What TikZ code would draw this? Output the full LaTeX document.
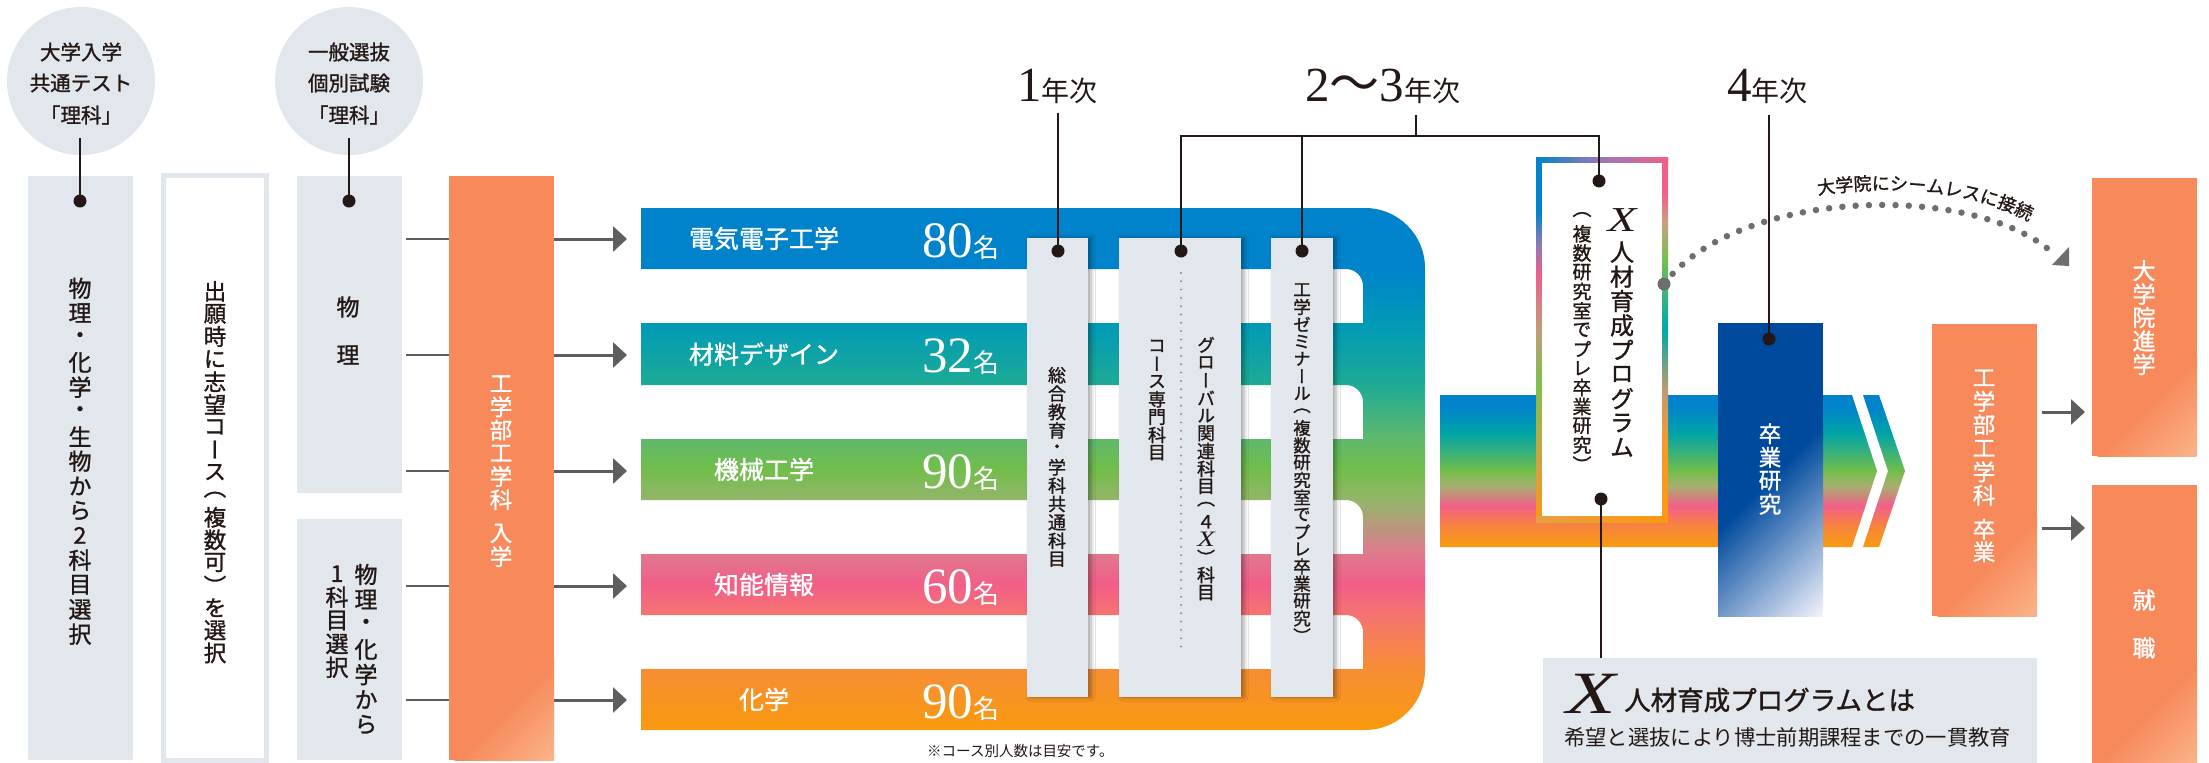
\documentclass[tikz,border=0pt]{standalone}
\usepackage{fontspec}
\setmainfont{Noto Sans CJK JP}
\newfontfamily\jp{Noto Sans CJK JP}
\newfontfamily\jpm[FakeBold=1.2]{Noto Sans CJK JP}
\newfontfamily\jpv[RawFeature=+vert,FakeBold=1.2]{Noto Sans CJK JP}
\newfontfamily\serifnum{Liberation Serif}
\usetikzlibrary{arrows.meta,decorations.text,shadows.blur}

\definecolor{ink}{HTML}{231815}
\definecolor{pale}{HTML}{E1E7ED}
\definecolor{orng}{HTML}{F7895A}
\definecolor{orngl}{HTML}{FBB48A}
\definecolor{gline}{HTML}{5E5E5E}
\definecolor{gdot}{HTML}{6E6E6E}
\definecolor{gdot2}{HTML}{8A8A8A}
\definecolor{dblue}{HTML}{004A9D}
\definecolor{cb}{HTML}{0083CB}
\definecolor{cp}{HTML}{F0608A}
\definecolor{co}{HTML}{F99A0E}
\definecolor{s1}{HTML}{F68D35}
\definecolor{s2}{HTML}{F57470}
\definecolor{s3}{HTML}{F25E88}
\definecolor{s4}{HTML}{DE7A8E}
\definecolor{s5}{HTML}{94B56A}
\definecolor{s6}{HTML}{72BE4B}
\definecolor{s7}{HTML}{5EB86E}
\definecolor{s8}{HTML}{1EAB94}
\definecolor{s9}{HTML}{009AB8}
\definecolor{s10}{HTML}{00A3A8}
\definecolor{s11}{HTML}{A8AE70}
\definecolor{s12}{HTML}{F7843E}
\definecolor{xa}{HTML}{8C7BB8}
\definecolor{xb}{HTML}{EE5F8A}
\definecolor{xc}{HTML}{C39A7A}
\definecolor{xd}{HTML}{7DBF4F}
\definecolor{xe}{HTML}{D5A040}
\definecolor{xf}{HTML}{C9A080}
\definecolor{xg}{HTML}{75C050}
\definecolor{xh}{HTML}{00A8A8}
\definecolor{xi}{HTML}{C09A70}
\definecolor{xj}{HTML}{F59A30}
\definecolor{xpur}{HTML}{9A78B4}
\definecolor{xbot}{HTML}{E8A040}
\definecolor{bmid}{HTML}{7F8CC8}
\definecolor{blite}{HTML}{F4F4FC}

\pgfdeclareverticalshading{cshade}{100bp}{color(0bp)=(co); color(25bp)=(co); color(31bp)=(s1); color(36bp)=(s2); color(39bp)=(s3); color(42bp)=(s4); color(47bp)=(s5); color(50bp)=(s6); color(53bp)=(s7); color(58bp)=(s8); color(64bp)=(s9); color(69bp)=(cb); color(75bp)=(cb); color(100bp)=(cb)}
\pgfdeclareverticalshading{bandshade}{100bp}{color(0bp)=(co); color(25bp)=(co); color(32bp)=(s12); color(38.5bp)=(s3); color(45bp)=(s11); color(50bp)=(s6); color(62.5bp)=(s10); color(71bp)=(cb); color(75bp)=(cb); color(100bp)=(cb)}
\pgfdeclareverticalshading{xlshade}{100bp}{color(0bp)=(co); color(25bp)=(co); color(32.5bp)=(xe); color(44bp)=(xd); color(51.5bp)=(xc); color(59bp)=(xb); color(63bp)=(xa); color(67.5bp)=(cb); color(75bp)=(cb); color(100bp)=(cb)}
\pgfdeclareverticalshading{xrshade}{100bp}{color(0bp)=(co); color(25bp)=(co); color(36bp)=(xj); color(43bp)=(xi); color(51.5bp)=(xh); color(61bp)=(xg); color(66bp)=(xf); color(70bp)=(cp); color(75bp)=(cp); color(100bp)=(cp)}

\makeatletter
\def\vs@end{\vs@end}
\newcommand\vstack[2]{\vbox{\offinterlineskip\def\vs@step{#1}\vs@aux#2\vs@end}}
\def\vs@aux#1{\ifx\vs@end#1\else\vs@one{#1}\expandafter\vs@aux\fi}
\def\vs@one#1{\hbox to 1.1em{\hss\vbox to \vs@step{\vss\hbox{#1}\vss}\hss}}
\makeatother
\newcommand\vtx[3]{{\jpv\fontsize{#1}{#1}\selectfont\vstack{#2pt}{#3}}}
\newcommand\Xs{{\serifnum\itshape\fontsize{22}{22}\selectfont\scalebox{1.3}[1]{X}}}
\newcommand\numf{\serifnum\fontsize{51}{51}\selectfont}
\newcommand\kfont{\jp\fontsize{26}{26}\selectfont}
\newcommand\yrn{\serifnum\fontsize{49}{49}\selectfont}
\newcommand\yrk{\jp\fontsize{28}{28}\selectfont}
% diagonal light corner at the lower right of a named box
\newcommand\cornerfade[5]{%
  \begin{scope}
    \clip (#1.south west) rectangle (#1.north east);
    \begin{scope}[transform canvas={rotate around={-45:(#1.south east)}}]
      \shade[left color=#3, middle color=#4, right color=#5] ([xshift=-#2,yshift=-300pt]#1.south east) rectangle ([yshift=300pt]#1.south east);
    \end{scope}
  \end{scope}}

\begin{document}
\begin{tikzpicture}[x=1pt,y=-1pt,
  box/.style 2 args={inner sep=0pt, outer sep=0pt, anchor=north west, minimum width=#1, minimum height=#2},
  pbox/.style={fill=pale},
  obox/.style={fill=orng},
  sbox/.style={fill=dblue},
  tagbox/.style={fill=pale, blur shadow={shadow xshift=3pt, shadow yshift=0pt, shadow blur radius=4pt, shadow opacity=35}},
  vt/.style={inner sep=0pt, outer sep=0pt, anchor=north, text=ink},
  vw/.style={vt, text=white},
  bl/.style={draw=ink, line width=2.6pt},
  blackdot/.style={fill=ink},
  gl/.style={draw=gline, line width=2.6pt},
  arr/.style={draw=gline, line width=3pt, -{Triangle[length=14pt,width=25pt]}},
  barlab/.style={inner sep=0pt, text=white, font=\jpm\fontsize{25}{25}\selectfont},
  numlab/.style={inner sep=0pt, anchor=base west, text=white},
  toplab/.style={inner sep=0pt, anchor=base west, text=ink},
  circtext/.style={inner sep=0pt, text=ink, font=\jpm\fontsize{20.5}{20.5}\selectfont},
]
\useasboundingbox (0,0) rectangle (2209,763);
\fill[white] (0,0) rectangle (2209,763);

% ---------- left column ----------
\node[circle, fill=pale, minimum size=148pt, inner sep=0pt] (circA) at (81,81) {};
\node[circle, fill=pale, minimum size=148pt, inner sep=0pt] (circB) at (349,81) {};
\node[circtext] (circA1) at (81,52) {大学入学};
\node[circtext] (circA2) at (81,83) {共通テスト};
\node[circtext] (circA3) at (81,115) {「理科」};
\node[circtext] (circB1) at (349,52) {一般選抜};
\node[circtext] (circB2) at (349,83) {個別試験};
\node[circtext] (circB3) at (349,115) {「理科」};

\node[box={105pt}{584pt}, pbox] (bxA) at (28,176) {};
\node[box={103pt}{585pt}, draw=pale, line width=5pt] (bxB) at (163.5,175.5) {};
\node[box={105pt}{317pt}, pbox] (bxC) at (297,176) {};
\node[box={105pt}{241pt}, pbox] (bxD) at (297,519) {};
\node[box={105pt}{584pt}, obox] (entry) at (449,176) {};
\cornerfade{entry}{70pt}{orng}{orng!50!orngl}{orngl}

\node[vt] (bxAt) at (80,276) {\vtx{23}{24.7}{物理・化学・生物から2科目選択}};
\node[vt] (bxBt) at (215,280) {\vtx{22.5}{22.6}{出願時に志望コース（複数可）を選択}};
\node[vt] (bxCt) at (348,283) {\vtx{23}{48}{物理}};
\node[vt] (bxDt1) at (366,562) {\vtx{23}{25}{物理・化学から}};
\node[vt] (bxDt2) at (337,562) {\vtx{23}{23.4}{1科目選択}};
\node[vw] (entryt1) at (501,372) {\vtx{22.5}{23.2}{工学部工学科}};
\node[vw] (entryt2) at (501,522) {\vtx{22.5}{23}{入学}};

\coordinate (cAs) at (80,138); \coordinate (cAd) at (80,201);
\coordinate (cBs) at (349,138); \coordinate (cBd) at (349,201);
\draw[bl] (cAs) -- (cAd); \fill[blackdot] (cAd) circle (6.5);
\draw[bl] (cBs) -- (cBd); \fill[blackdot] (cBd) circle (6.5);

% ---------- rows ----------
\coordinate (r1) at (641,239);
\coordinate (r2) at (641,355);
\coordinate (r3) at (641,471);
\coordinate (r4) at (641,586);
\coordinate (r5) at (641,700);
\draw[gl, shorten <=4pt] (bxC.east |- r1) -- (entry.west |- r1);
\draw[gl, shorten <=4pt] (bxC.east |- r2) -- (entry.west |- r2);
\draw[gl, shorten <=4pt] (bxC.east |- r3) -- (entry.west |- r3);
\draw[gl, shorten <=4pt] (bxD.east |- r4) -- (entry.west |- r4);
\draw[gl, shorten <=4pt] (bxD.east |- r5) -- (entry.west |- r5);
\draw[arr, shorten >=14pt] (entry.east |- r1) -- (r1);
\draw[arr, shorten >=14pt] (entry.east |- r2) -- (r2);
\draw[arr, shorten >=14pt] (entry.east |- r3) -- (r3);
\draw[arr, shorten >=14pt] (entry.east |- r4) -- (r4);
\draw[arr, shorten >=14pt] (entry.east |- r5) -- (r5);

% ---------- course C shape ----------
\shade[shading=cshade] (641,208) -- (1365,208) arc[start angle=90,end angle=0,radius=60pt] -- (1425,670) arc[start angle=0,end angle=-90,radius=60pt] -- (641,730) -- (641,669) -- (1363,669) -- (1363,632) arc[start angle=0,end angle=90,radius=17pt] -- (641,615) -- (641,554) -- (1363,554) -- (1363,517) arc[start angle=0,end angle=90,radius=17pt] -- (641,500) -- (641,439) -- (1363,439) -- (1363,402) arc[start angle=0,end angle=90,radius=17pt] -- (641,385) -- (641,323) -- (1363,323) -- (1363,286) arc[start angle=0,end angle=90,radius=17pt] -- (641,269) -- cycle;

\node[barlab] (c1) at (764,238.5) {電気電子工学};
\node[barlab] (c2) at (764,354) {材料デザイン};
\node[barlab] (c3) at (764,469.5) {機械工学};
\node[barlab] (c4) at (764,584.5) {知能情報};
\node[barlab] (c5) at (764,699.5) {化学};
\node[numlab] (n1) at (922,257) {\numf 80\kfont 名};
\node[numlab] (n2) at (922,372.5) {\numf 32\kfont 名};
\node[numlab] (n3) at (922,488) {\numf 90\kfont 名};
\node[numlab] (n4) at (922,603) {\numf 60\kfont 名};
\node[numlab] (n5) at (922,718) {\numf 90\kfont 名};
\node[inner sep=0pt, anchor=base west, text=ink, font=\jp\fontsize{14.5}{14.5}\selectfont] (note) at (927,756) {※コース別人数は目安です。};

% ---------- tags ----------
\node[box={61pt}{459pt}, tagbox] (tagA) at (1027,238) {};
\node[box={122pt}{459pt}, tagbox] (tagB) at (1119,238) {};
\node[box={62pt}{459pt}, tagbox] (tagC) at (1271,238) {};
\coordinate (tbd1) at (1181,273); \coordinate (tbd2) at (1181,654);
\draw[gdot2, line width=2.2pt, line cap=round, dash pattern=on 0pt off 8.3pt] (tbd1) -- (tbd2);
\node[vt] (tagAt) at (1057,366) {\vtx{18}{18.4}{総合教育・学科共通科目}};
\node[vt] (tagBt1) at (1157,337) {\vtx{18}{17.8}{コース専門科目}};
\node[vt] (tagBt2) at (1206,336) {\vtx{18}{17.7}{グローバル関連科目（４\Xs）科目}};
\node[vt] (tagCt) at (1302,281) {\vtx{17.5}{17.3}{工学ゼミナール（複数研究室でプレ卒業研究）}};

% ---------- 4th year band ----------
\shade[shading=bandshade] (1440,395) -- (1852,395) -- (1877,471) -- (1852,547) -- (1440,547) -- cycle;
\shade[shading=bandshade] (1863,395) -- (1879,395) -- (1905,471) -- (1879,547) -- (1863,547) -- (1888,471) -- cycle;

% X program box
\node[box={132pt}{365pt}, fill=white] (xbox) at (1536,157) {};
\shade[shading=xlshade] (1536,157) rectangle (1541.5,522);
\shade[shading=xrshade] (1662.5,157) rectangle (1668,522);
\shade[left color=cb, right color=cp, middle color=xpur] (1536,157) rectangle (1668,162.5);
\shade[left color=xbot, right color=co] (1536,516.5) rectangle (1668,522);
\node[inner sep=0pt, text=ink, font=\serifnum\itshape\fontsize{35}{35}\selectfont] (xX) at (1622,220) {\scalebox{1.35}[1]{X}};
\node[vt] (xbig) at (1622,240) {\vtx{24}{24.4}{人材育成プログラム}};
\node[vt] (xsmall) at (1582,205) {\vtx{19}{19.2}{（複数研究室でプレ卒業研究）}};

\node[box={105pt}{293pt}, sbox] (sotsu) at (1718,323) {};
\cornerfade{sotsu}{135pt}{dblue}{bmid}{blite}
\node[vw] (sotsut) at (1770,422) {\vtx{22.5}{23.5}{卒業研究}};

% right boxes
\node[box={105pt}{292pt}, obox] (grad) at (1932,324) {};
\node[box={105pt}{278pt}, obox] (gs) at (2092,178) {};
\node[box={105pt}{278pt}, obox] (job) at (2092,485) {};
\cornerfade{grad}{70pt}{orng}{orng!50!orngl}{orngl}
\cornerfade{gs}{70pt}{orng}{orng!50!orngl}{orngl}
\cornerfade{job}{70pt}{orng}{orng!50!orngl}{orngl}
\node[vw] (gradt1) at (1984,366) {\vtx{22.5}{23.5}{工学部工学科}};
\node[vw] (gradt2) at (1984,518) {\vtx{22.5}{22.5}{卒業}};
\node[vw] (gst) at (2144,259) {\vtx{23}{23.4}{大学院進学}};
\node[vw] (jobt) at (2144,576) {\vtx{23}{48}{就職}};
\coordinate (a1) at (2085,412); \coordinate (a2) at (2085,528);
\draw[arr, shorten <=5pt, shorten >=7pt] (grad.east |- a1) -- (gs.west |- a1);
\draw[arr, shorten <=5pt, shorten >=7pt] (grad.east |- a2) -- (job.west |- a2);

% info box
\node[box={494pt}{105pt}, pbox] (info) at (1543,658) {};
\node[inner sep=0pt, anchor=base west, text=ink, font=\serifnum\itshape\fontsize{60}{60}\selectfont] (infoX) at (1566,713) {\scalebox{1.35}[1]{X}};
\node[inner sep=0pt, anchor=base west, text=ink, font=\jpm\fontsize{26.5}{26.5}\selectfont] (infoT) at (1624,710) {人材育成プログラムとは};
\node[inner sep=0pt, anchor=base west, text=ink, font=\jp\fontsize{21.3}{21.3}\selectfont] (infoS) at (1564,745) {希望と選抜により博士前期課程までの一貫教育};

% seamless arc
\coordinate (arcS) at (1664,284); \coordinate (arcE) at (2053,253);
\draw[gdot, line width=6.5pt, line cap=round, dash pattern=on 0pt off 13.3pt] (arcS) .. controls (1735,190) and (1970,180) .. (arcE);
\fill[gdot] (arcS) circle (6.5);
\fill[gdot] (2052,265) -- (2069,247) -- (2069,266) -- cycle;
\path[decorate, decoration={text along path, text align={left indent=175pt}, text={|\jpm\fontsize{18}{18}\selectfont\color{ink}|大学院にシームレスに接続}}] (1664,269) .. controls (1735,175) and (1970,165) .. (2053,238) -- (2100,285);

% ---------- year labels and brackets ----------
\node[toplab] (y1l) at (1017,101) {{\yrn 1}{\yrk 年次}};
\node[toplab] (y23l) at (1305,101) {{\yrn 2}{\jp\fontsize{50}{50}\selectfont 〜}{\yrn 3}{\yrk 年次}};
\node[toplab] (y4l) at (1727,101) {{\yrn 4}{\yrk 年次}};
\coordinate (y1s) at (1058,113); \coordinate (d1) at (1058,251);
\coordinate (y23s) at (1416,115); \coordinate (br) at (1416,136);
\coordinate (d2) at (1181,251); \coordinate (d3) at (1302,251); \coordinate (dx) at (1599,181);
\coordinate (y4s) at (1769,115); \coordinate (d4) at (1769,339);
\coordinate (dxb) at (1601,499);
\draw[bl] (y1s) -- (d1);
\draw[bl] (y23s) -- (br);
\draw[bl] (d2) -- (d2 |- br) -- (dx |- br) -- (dx);
\draw[bl] (d3) -- (d3 |- br);
\draw[bl] (y4s) -- (d4);
\draw[bl] (dxb) -- (info.north -| dxb);
\foreach \d in {d1,d2,d3,dx,d4,dxb} \fill[blackdot] (\d) circle (6.5);
\end{tikzpicture}
\end{document}
